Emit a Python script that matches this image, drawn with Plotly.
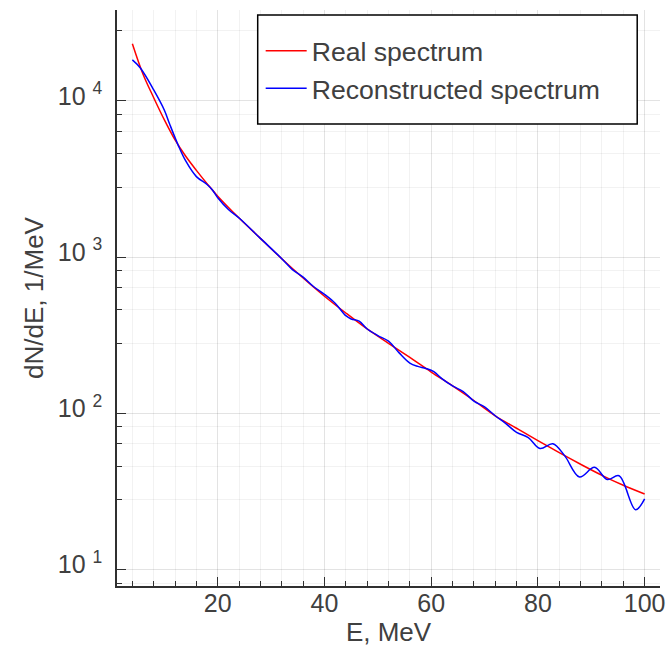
import plotly.graph_objects as go

# Real spectrum
real_E = [4, 6, 8, 10, 12, 14, 16, 18, 20, 24, 28, 32, 36, 40, 44, 48, 52, 56,
          60, 64, 68, 72, 76, 80, 84, 88, 92, 96, 100]
real_dNdE = [23170, 14790, 10470, 7550, 5620, 4416, 3589, 2951, 2455, 1778, 1318,
             977, 735, 562, 439, 347, 281, 228, 184, 150, 121, 96.6, 80.4, 67.0,
             56.1, 47.3, 40.2, 34.7, 30.5]

# Reconstructed spectrum
reco_E = [4, 5.5, 8, 10, 11, 12.6, 14, 16, 18, 19, 20, 22, 24, 28, 32, 34, 36, 38,
          40, 42, 44, 45, 46.5, 48, 50, 52, 54, 56, 57.5, 59, 60.5, 62, 64, 66, 68,
          70, 72, 74, 76, 78.2, 80.4, 82.8, 85, 87.8, 90.6, 93, 95.2, 98.3, 100]
reco_dNdE = [18280, 16220, 11750, 8710, 7080, 5188, 4121, 3273, 2917, 2690, 2399,
             2018, 1778, 1318, 977, 832, 745, 646, 578, 507, 422, 402, 389, 347,
             315, 290, 244, 210, 200, 194, 185, 167, 150, 138, 120, 110, 96.6, 86.1,
             75.7, 70.1, 59.6, 64.0, 53.7, 39.2, 45.2, 37.8, 39.9, 24.2, 28.4]

x_major = [20, 40, 60, 80, 100]
x_major_text = ["20", "40", "60", "80", "100"]
x_minor = [4, 8, 12, 16, 24, 28, 32, 36, 44, 48, 52, 56, 64, 68, 72, 76, 84, 88, 92, 96]
y_major = [10, 100, 1000, 10000]
y_major_text = ["10 <sup>1</sup>", "10 <sup>2</sup>", "10 <sup>3</sup>", "10 <sup>4</sup>"]
y_minor = [8.2, 28, 46, 64, 82, 280, 460, 640, 820, 2800, 4600, 6400, 8200, 28000]

FONT = "Liberation Sans"
TXT = "#404040"
AX = "#303030"

fig = go.Figure()
fig.add_trace(go.Scatter(x=real_E, y=real_dNdE, mode="lines", name="Real spectrum",
                         line=dict(color="#ff0000", width=1.5, shape="spline")))
fig.add_trace(go.Scatter(x=reco_E, y=reco_dNdE, mode="lines", name="Reconstructed spectrum",
                         line=dict(color="#0000ff", width=1.5, shape="spline")))

W, H = 667, 657
ml, mr, mt, mb = 117, 2, 10, 71
pw, ph = W - ml - mr, H - mt - mb

def px2paper(px, py):
    return (px - ml) / pw, (H - mb - py) / ph

bx0, by0 = px2paper(259, 15)
bx1, by1 = px2paper(642, 124)
lx, ly = px2paper(262, 27)

fig.update_layout(
    width=W, height=H,
    margin=dict(l=ml, r=mr, t=mt, b=mb),
    paper_bgcolor="white", plot_bgcolor="white",
    font=dict(family=FONT, color=TXT, size=24),
    showlegend=True,
    legend=dict(x=lx, y=ly, xanchor="left", yanchor="top", itemwidth=41,
                bgcolor="rgba(0,0,0,0)", borderwidth=0,
                font=dict(size=26.6, color=TXT, family=FONT)),
    shapes=[dict(type="rect", xref="paper", yref="paper", x0=bx0, x1=bx1, y0=by0, y1=by1,
                 fillcolor="white", line=dict(color="black", width=1.5), layer="above")],
    xaxis=dict(
        range=[1.12, 102.88], tickmode="array", tickvals=x_major, ticktext=x_major_text,
        ticks="inside", ticklen=9, tickwidth=1.2, tickcolor=AX,
        showline=True, linecolor=AX, linewidth=1.5, mirror=False,
        showgrid=True, gridcolor="rgba(0,0,0,0.11)", gridwidth=1, zeroline=False,
        tickfont=dict(size=25, color=TXT, family=FONT), ticklabelstandoff=-6,
        ticklabeloverflow="allow",
        title=dict(text="E, MeV", font=dict(size=26, color=TXT, family=FONT), standoff=7),
        minor=dict(tickmode="array", tickvals=x_minor, ticks="inside", ticklen=5,
                   tickwidth=1.2, tickcolor=AX, showgrid=True,
                   gridcolor="rgba(0,0,0,0.05)", gridwidth=1),
    ),
    yaxis=dict(
        type="log", range=[0.896, 4.581], tickmode="array", tickvals=y_major,
        ticktext=y_major_text,
        ticks="inside", ticklen=9, tickwidth=1.2, tickcolor=AX,
        showline=True, linecolor=AX, linewidth=1.5, mirror=False,
        showgrid=True, gridcolor="rgba(0,0,0,0.11)", gridwidth=1, zeroline=False,
        tickfont=dict(size=25, color=TXT, family=FONT), ticklabelstandoff=8,
        ticklabelshift=-5, ticklabeloverflow="allow",
        title=dict(text="dN/dE, 1/MeV", font=dict(size=26, color=TXT, family=FONT), standoff=7),
        minor=dict(tickmode="array", tickvals=y_minor, ticks="inside", ticklen=5,
                   tickwidth=1.2, tickcolor=AX, showgrid=True,
                   gridcolor="rgba(0,0,0,0.05)", gridwidth=1),
    ),
)

fig.write_html("out.html")
